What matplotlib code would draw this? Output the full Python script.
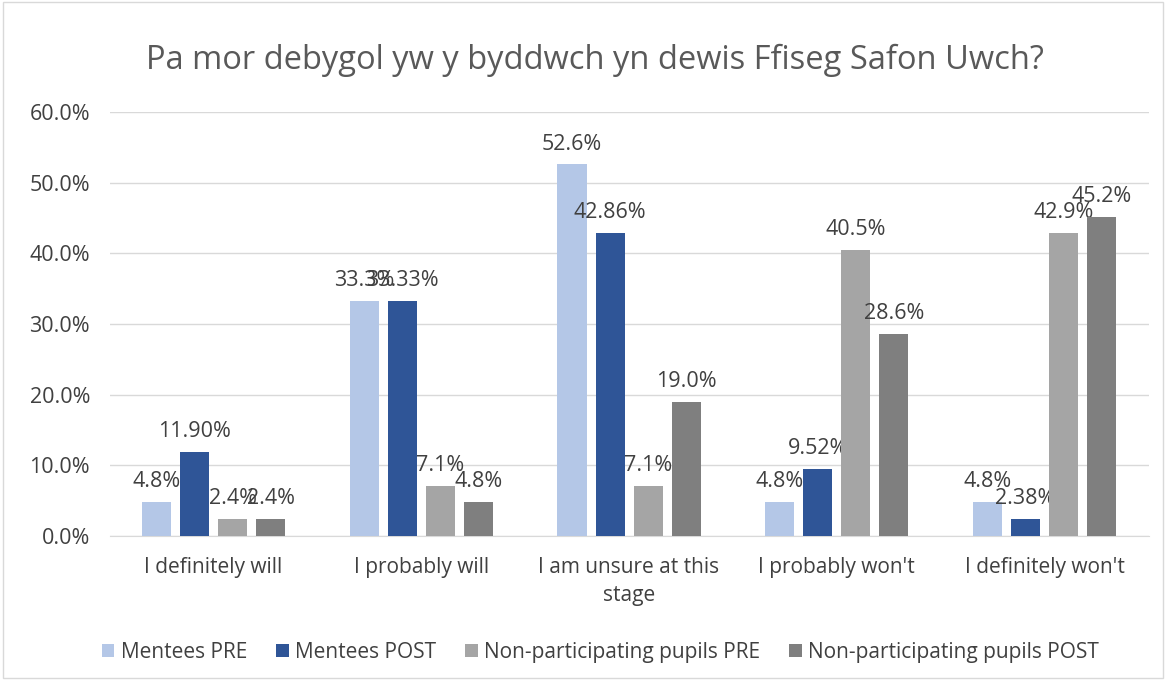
import numpy as np
import matplotlib.pyplot as plt
from matplotlib.patches import Rectangle

categories = ["I definitely will", "I probably will", "I am unsure at this\nstage",
              "I probably won't", "I definitely won't"]
series_names = ["Mentees PRE", "Mentees POST",
                "Non-participating pupils PRE", "Non-participating pupils POST"]
mentees_pre = [4.8, 33.3, 52.6, 4.8, 4.8]
mentees_post = [11.90, 33.33, 42.86, 9.52, 2.38]
non_pre = [2.4, 7.1, 7.1, 40.5, 42.9]
non_post = [2.4, 4.8, 19.0, 28.6, 45.2]
label_fmt = ["{:.1f}%", "{:.2f}%", "{:.1f}%", "{:.1f}%"]
colors = ["#B4C7E7", "#2F5597", "#A5A5A5", "#7F7F7F"]

plt.rcParams['font.family'] = ['Open Sans', 'DejaVu Sans']
txt = "#404040"

fig = plt.figure(figsize=(11.66, 6.8), dpi=100)
ax = fig.add_axes([0.094, 0.212, 0.891, 0.623])
fig.patches.append(Rectangle((0.003, 0.003), 0.994, 0.994, transform=fig.transFigure,
                             fill=False, edgecolor="#D9D9D9", linewidth=1))

x = np.arange(len(categories))
width = 0.14
step = 0.183
all_series = [mentees_pre, mentees_post, non_pre, non_post]
for i, vals in enumerate(all_series):
    pos = x + (i - 1.5) * step
    ax.bar(pos, vals, width=width, color=colors[i], label=series_names[i], zorder=3)
    for px, v in zip(pos, vals):
        ax.annotate(label_fmt[i].format(v), (px, v), xytext=(0, 7),
                    textcoords="offset points", ha="center", va="bottom",
                    fontsize=15.5, color=txt)

ax.set_xlim(-0.5, len(categories) - 0.5)
ax.set_ylim(0, 60)
ax.set_yticks(np.arange(0, 61, 10))
ax.set_yticklabels([f"{t:.1f}%" for t in np.arange(0, 61, 10)], fontsize=15.5, color=txt)
ax.set_xticks(x)
ax.set_xticklabels(categories, fontsize=15, color=txt, linespacing=1.45)
ax.tick_params(axis="y", length=0, pad=14)
ax.tick_params(axis="x", length=0, pad=15)
ax.grid(axis="y", color="#D9D9D9", linewidth=1, zorder=0)
for s in ["top", "right", "left"]:
    ax.spines[s].set_visible(False)
ax.spines["bottom"].set_color("#D9D9D9")

fig.suptitle("Pa mor debygol yw y byddwch yn dewis Ffiseg Safon Uwch?",
             x=0.51, y=0.935, fontsize=23.5, color="#595959")

fig.legend(loc="lower center", bbox_to_anchor=(0.515, -0.002), ncol=4, frameon=False,
           fontsize=15, labelcolor=txt, handlelength=0.6, handleheight=0.6,
           handletextpad=0.3, columnspacing=1.4)

fig.savefig("out.png", dpi=100)
